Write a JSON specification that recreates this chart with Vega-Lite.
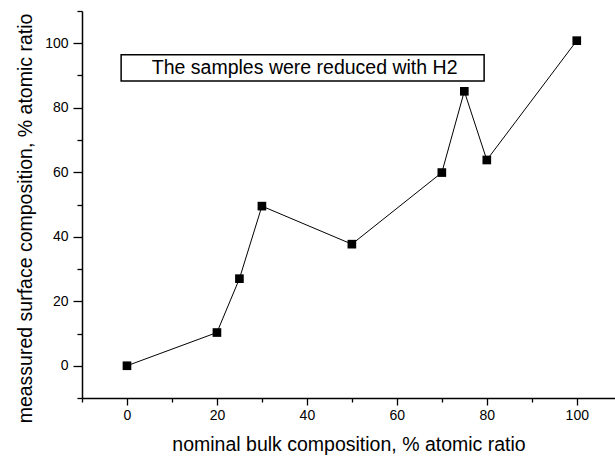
{
  "$schema": "https://vega.github.io/schema/vega-lite/v6.json",
  "autosize": {"type": "none"},
  "padding": {"left": 82, "top": 11, "right": 0, "bottom": 59},
  "width": 533,
  "height": 387,
  "background": "white",
  "config": {
    "view": {"stroke": null},
    "axis": {
      "grid": false,
      "domainColor": "black",
      "domainWidth": 1.5,
      "tickColor": "black",
      "tickWidth": 1.3,
      "labelFont": "Liberation Sans",
      "labelFontSize": 14,
      "labelColor": "black",
      "titleFont": "Liberation Sans",
      "titleFontSize": 19.5,
      "titleFontWeight": "normal",
      "titleColor": "black"
    }
  },
  "datasets": {
    "pts": [
      {"nominal": 0, "measured": 0},
      {"nominal": 20, "measured": 10.3},
      {"nominal": 25, "measured": 27.0},
      {"nominal": 30, "measured": 49.5},
      {"nominal": 50, "measured": 37.7},
      {"nominal": 70, "measured": 59.9},
      {"nominal": 75, "measured": 85.1},
      {"nominal": 80, "measured": 63.8},
      {"nominal": 100, "measured": 100.8}
    ],
    "box": [{"x1": -1.3, "x2": 79.4, "y1": 88.3, "y2": 96.4}],
    "note": [{"x": 39.5, "y": 92.3, "text": "The samples were reduced with H2"}]
  },
  "resolve": {"axis": {"y": "independent"}},
  "layer": [
    {
      "data": {"name": "pts"},
      "mark": {
        "type": "line",
        "color": "black",
        "strokeWidth": 1,
        "point": {"shape": "square", "size": 75, "filled": true, "color": "black", "opacity": 1}
      },
      "encoding": {
        "x": {
          "field": "nominal",
          "type": "quantitative",
          "scale": {"domain": [-10, 108.5], "nice": false, "zero": false},
          "axis": {
            "title": "nominal bulk composition, % atomic ratio",
            "values": [-10, 0, 10, 20, 30, 40, 50, 60, 70, 80, 90, 100],
            "labelExpr": "(datum.value % 20 === 0 && datum.value >= 0) ? datum.label : ''",
            "tickSize": {"condition": {"test": "datum.value % 20 === 0", "value": 7}, "value": 4},
            "labelPadding": 3,
            "labelOverlap": false,
            "titleY": 52,
            "titleBaseline": "alphabetic",
            "titleAnchor": "middle"
          }
        },
        "y": {
          "field": "measured",
          "type": "quantitative",
          "scale": {"domain": [-10, 110], "nice": false, "zero": false},
          "axis": {
            "orient": "left",
            "title": "meassured surface composition, % atomic ratio",
            "values": [0, 20, 40, 60, 80, 100],
            "tickSize": 9,
            "labelPadding": 5,
            "labelOverlap": false,
            "titleX": -51,
            "titleY": 207,
            "titleAngle": -90,
            "titleBaseline": "alphabetic",
            "titleAlign": "center"
          }
        }
      }
    },
    {
      "data": {"name": "box"},
      "mark": {"type": "rect", "fill": "white", "stroke": "black", "strokeWidth": 1.5},
      "encoding": {
        "x": {"field": "x1", "type": "quantitative"},
        "x2": {"field": "x2"},
        "y": {
          "field": "y1",
          "type": "quantitative",
          "axis": {
            "orient": "left",
            "title": null,
            "values": [-10, 10, 30, 50, 70, 90, 110],
            "tickSize": 5,
            "labels": false,
            "domain": false
          }
        },
        "y2": {"field": "y2"}
      }
    },
    {
      "data": {"name": "note"},
      "mark": {"type": "text", "font": "Liberation Sans", "fontSize": 19.5, "color": "black", "align": "center", "baseline": "middle"},
      "encoding": {
        "x": {"field": "x", "type": "quantitative"},
        "y": {"field": "y", "type": "quantitative", "axis": null},
        "text": {"field": "text"}
      }
    }
  ]
}
